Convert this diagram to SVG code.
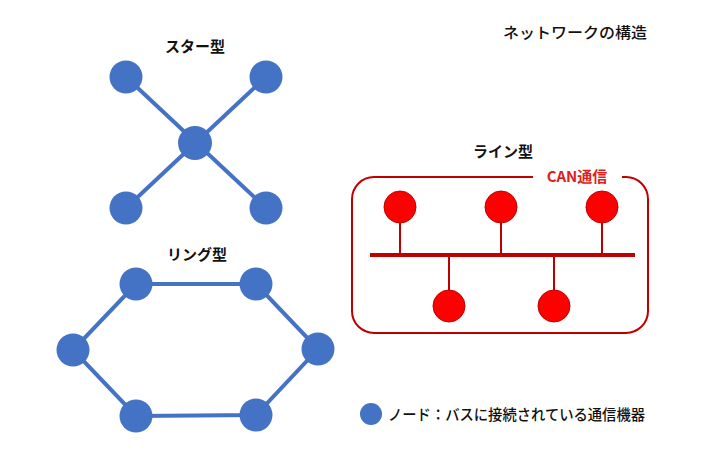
<svg xmlns="http://www.w3.org/2000/svg" width="724" height="459" viewBox="0 0 724 459">
<style>
.t{font-family:"Noto Sans CJK JP","Noto Sans",sans-serif;font-size:15px;fill:#111;}
.b{font-weight:bold;}
.m{font-weight:500;}
.bn{fill:#4472C4;}
.bl{stroke:#4472C4;stroke-width:4;fill:none;}
.rn{fill:#FF0000;stroke:#C00000;stroke-width:1;}
.rl{stroke:#C00000;fill:none;}
</style>
<rect width="724" height="459" fill="#fff"/>
<text class="t m" x="503" y="38" textLength="144" lengthAdjust="spacingAndGlyphs">ネットワークの構造</text>
<text class="t b" x="195" y="52" text-anchor="middle">スター型</text>
<text class="t b" x="197" y="260" text-anchor="middle">リング型</text>
<text class="t b" x="503" y="157" text-anchor="middle">ライン型</text>
<g id="connectors">
<line class="bl" x1="126" y1="77" x2="266" y2="208"/>
<line class="bl" x1="266" y1="77" x2="126" y2="208"/>
<polygon class="bl" points="136,284 256,284 318,349 256,415 136,416 73,350"/>
<rect class="rl" x="352" y="177" width="296" height="156" rx="22" stroke-width="2"/>
<line class="rl" x1="370" y1="255" x2="635" y2="255" stroke-width="4"/>
<line class="rl" x1="400" y1="207" x2="400" y2="255" stroke-width="2"/>
<line class="rl" x1="501" y1="207" x2="501" y2="255" stroke-width="2"/>
<line class="rl" x1="602" y1="207" x2="602" y2="255" stroke-width="2"/>
<line class="rl" x1="449" y1="255" x2="449" y2="306" stroke-width="2"/>
<line class="rl" x1="554" y1="255" x2="554" y2="306" stroke-width="2"/>
</g>
<rect x="533" y="168" width="89" height="18" fill="#fff"/>
<text class="t b" x="577" y="182" text-anchor="middle" style="fill:#E02020">CAN通信</text>
<g id="star-tl"><circle class="bn" cx="126" cy="77" r="16.5"/></g>
<g id="star-tr"><circle class="bn" cx="266" cy="77" r="16.5"/></g>
<g id="star-c"><circle class="bn" cx="195" cy="143" r="17"/></g>
<g id="star-bl"><circle class="bn" cx="126" cy="208" r="16.5"/></g>
<g id="star-br"><circle class="bn" cx="266" cy="208" r="16.5"/></g>
<g id="ring-1"><circle class="bn" cx="136" cy="284" r="16.5"/></g>
<g id="ring-2"><circle class="bn" cx="256" cy="284" r="16.5"/></g>
<g id="ring-3"><circle class="bn" cx="318" cy="349" r="16.5"/></g>
<g id="ring-4"><circle class="bn" cx="256" cy="415" r="16.5"/></g>
<g id="ring-5"><circle class="bn" cx="136" cy="416" r="16.5"/></g>
<g id="ring-6"><circle class="bn" cx="73" cy="350" r="16.5"/></g>
<g id="line-1"><circle class="rn" cx="400" cy="207" r="16"/></g>
<g id="line-2"><circle class="rn" cx="501" cy="207" r="16"/></g>
<g id="line-3"><circle class="rn" cx="602" cy="207" r="16"/></g>
<g id="line-4"><circle class="rn" cx="449" cy="306" r="16"/></g>
<g id="line-5"><circle class="rn" cx="554" cy="306" r="16"/></g>
<g id="legend">
<circle class="bn" cx="371" cy="414" r="11"/>
<text class="t m" x="388" y="420" textLength="257" lengthAdjust="spacingAndGlyphs">ノード：バスに接続されている通信機器</text>
</g>
</svg>
